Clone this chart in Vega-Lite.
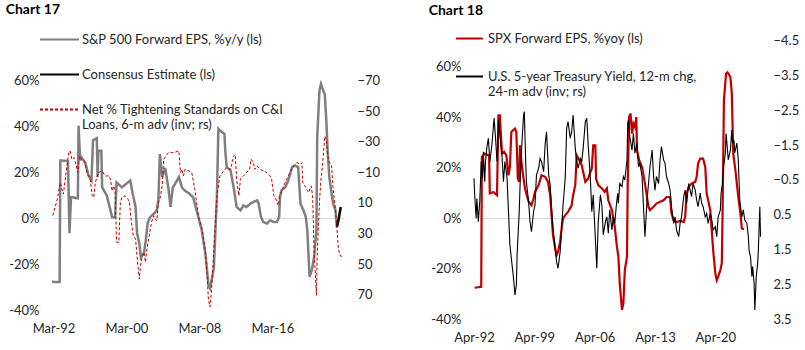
{
"$schema": "https://vega.github.io/schema/vega-lite/v6.json",
"padding": {"left": 5, "top": 3, "right": 2, "bottom": 0},
"spacing": 48,
"resolve": {"scale": {"color": "independent", "strokeDash": "independent"}, "legend": {"color": "independent", "strokeDash": "independent"}},
"config": {
  "font": "Lato",
  "view": {"stroke": null},
  "axis": {"labelFont": "Lato", "labelFontSize": 13, "labelColor": "#262626", "domain": false, "ticks": false, "grid": false, "title": null, "labelOverlap": false, "labelFlush": false, "labelBound": false},
  "legend": {"labelFont": "Lato", "labelFontSize": 13, "labelColor": "#262626", "labelLimit": 0}
},
"datasets": {
"c17l": [
{"s":"eps","d":"1992-01-01","v":-27.7},{"s":"eps","d":"1992-11-01","v":-27.8},{"s":"eps","d":"1992-12-01","v":25.2},{"s":"eps","d":"1993-02-01","v":25.2},{"s":"eps","d":"1993-10-01","v":25},{"s":"eps","d":"1993-11-01","v":9.3},{"s":"eps","d":"1993-12-01","v":-6.5},{"s":"eps","d":"1994-02-01","v":9.3},{"s":"eps","d":"1994-11-01","v":8.7},{"s":"eps","d":"1994-12-01","v":40.4},{"s":"eps","d":"1995-02-01","v":25.2},{"s":"eps","d":"1995-04-01","v":26.5},{"s":"eps","d":"1995-09-01","v":24},{"s":"eps","d":"1996-01-01","v":18.7},{"s":"eps","d":"1996-05-01","v":16.5},{"s":"eps","d":"1996-07-01","v":34},{"s":"eps","d":"1996-12-01","v":35},{"s":"eps","d":"1997-01-01","v":18},{"s":"eps","d":"1997-02-01","v":29.5},{"s":"eps","d":"1997-06-01","v":29.5},{"s":"eps","d":"1997-07-01","v":13.5},{"s":"eps","d":"1998-01-01","v":10},{"s":"eps","d":"1998-06-01","v":3.5},{"s":"eps","d":"1998-08-01","v":0.5},{"s":"eps","d":"1998-12-01","v":0.5},{"s":"eps","d":"1999-02-01","v":15.6},{"s":"eps","d":"1999-09-01","v":13.5},{"s":"eps","d":"2000-08-01","v":16.5},{"s":"eps","d":"2000-11-01","v":11},{"s":"eps","d":"2001-03-01","v":5},{"s":"eps","d":"2001-05-01","v":-6.5},{"s":"eps","d":"2001-08-01","v":-11},{"s":"eps","d":"2001-10-01","v":-17},{"s":"eps","d":"2002-02-01","v":-15},{"s":"eps","d":"2002-04-01","v":-11},{"s":"eps","d":"2002-07-01","v":-2},{"s":"eps","d":"2002-10-01","v":0.5},{"s":"eps","d":"2003-03-01","v":2},{"s":"eps","d":"2003-07-01","v":3.5},{"s":"eps","d":"2003-09-01","v":8},{"s":"eps","d":"2003-11-01","v":28},{"s":"eps","d":"2004-02-01","v":18},{"s":"eps","d":"2004-06-01","v":22},{"s":"eps","d":"2004-10-01","v":13.5},{"s":"eps","d":"2005-01-01","v":5},{"s":"eps","d":"2005-04-01","v":13.5},{"s":"eps","d":"2005-07-01","v":15},{"s":"eps","d":"2005-12-01","v":18},{"s":"eps","d":"2006-04-01","v":13.5},{"s":"eps","d":"2006-08-01","v":12},{"s":"eps","d":"2007-01-01","v":11},{"s":"eps","d":"2007-07-01","v":9},{"s":"eps","d":"2008-02-01","v":0},{"s":"eps","d":"2008-06-01","v":-5},{"s":"eps","d":"2008-11-01","v":-16},{"s":"eps","d":"2009-03-01","v":-29},{"s":"eps","d":"2009-05-01","v":-30.5},{"s":"eps","d":"2009-10-01","v":-22},{"s":"eps","d":"2010-02-01","v":10},{"s":"eps","d":"2010-04-01","v":39},{"s":"eps","d":"2010-06-01","v":38.3},{"s":"eps","d":"2010-12-01","v":36.8},{"s":"eps","d":"2011-01-01","v":29.5},{"s":"eps","d":"2011-03-01","v":22.3},{"s":"eps","d":"2011-08-01","v":20.9},{"s":"eps","d":"2011-12-01","v":13.6},{"s":"eps","d":"2012-04-01","v":4.9},{"s":"eps","d":"2012-09-01","v":3.5},{"s":"eps","d":"2013-01-01","v":5.6},{"s":"eps","d":"2013-05-01","v":4.9},{"s":"eps","d":"2013-10-01","v":6.4},{"s":"eps","d":"2014-02-01","v":7.1},{"s":"eps","d":"2014-07-01","v":7.8},{"s":"eps","d":"2014-09-01","v":6.4},{"s":"eps","d":"2014-12-01","v":0.6},{"s":"eps","d":"2015-03-01","v":-1.6},{"s":"eps","d":"2015-08-01","v":-2.3},{"s":"eps","d":"2015-12-01","v":-0.9},{"s":"eps","d":"2016-05-01","v":-1.6},{"s":"eps","d":"2016-09-01","v":-1.6},{"s":"eps","d":"2016-12-01","v":0.6},{"s":"eps","d":"2017-01-01","v":9.3},{"s":"eps","d":"2017-03-01","v":12.2},{"s":"eps","d":"2017-08-01","v":13.6},{"s":"eps","d":"2017-12-01","v":16.5},{"s":"eps","d":"2018-05-01","v":22.3},{"s":"eps","d":"2018-09-01","v":23},{"s":"eps","d":"2019-01-01","v":22.3},{"s":"eps","d":"2019-04-01","v":6.4},{"s":"eps","d":"2019-08-01","v":3.5},{"s":"eps","d":"2019-11-01","v":0.6},{"s":"eps","d":"2020-01-01","v":-5.2},{"s":"eps","d":"2020-04-01","v":-25.5},{"s":"eps","d":"2020-07-01","v":-22.6},{"s":"eps","d":"2020-10-01","v":-16.8},{"s":"eps","d":"2021-01-01","v":-5.2},{"s":"eps","d":"2021-02-01","v":35.4},{"s":"eps","d":"2021-05-01","v":55.7},{"s":"eps","d":"2021-07-01","v":58.6},{"s":"eps","d":"2021-10-01","v":55.7},{"s":"eps","d":"2021-12-01","v":54.2},{"s":"eps","d":"2022-02-01","v":42.6},{"s":"eps","d":"2022-04-01","v":28.1},{"s":"eps","d":"2022-06-01","v":18},{"s":"eps","d":"2022-09-01","v":10.7},{"s":"eps","d":"2022-11-01","v":6.4},{"s":"eps","d":"2023-02-01","v":3.5},{"s":"eps","d":"2023-04-01","v":-3.8},
{"s":"cons","d":"2023-04-01","v":-3.8},{"s":"cons","d":"2023-06-01","v":-0.9},{"s":"cons","d":"2023-09-01","v":4.9}
],
"c17r": [
{"s":"loans","d":"1992-02-01","v":18.3},{"s":"loans","d":"1992-08-01","v":7.5},{"s":"loans","d":"1992-12-01","v":-3.4},{"s":"loans","d":"1993-02-01","v":1},{"s":"loans","d":"1993-04-01","v":4.2},{"s":"loans","d":"1993-07-01","v":-7.7},{"s":"loans","d":"1993-11-01","v":-22.9},{"s":"loans","d":"1994-01-01","v":-24},{"s":"loans","d":"1994-03-01","v":-18.6},{"s":"loans","d":"1994-06-01","v":-19.7},{"s":"loans","d":"1994-08-01","v":-16.4},{"s":"loans","d":"1994-11-01","v":-9.9},{"s":"loans","d":"1995-01-01","v":-20.7},{"s":"loans","d":"1995-04-01","v":-18.6},{"s":"loans","d":"1995-08-01","v":-17.5},{"s":"loans","d":"1995-11-01","v":-9.9},{"s":"loans","d":"1996-01-01","v":-7.7},{"s":"loans","d":"1996-03-01","v":-6.7},{"s":"loans","d":"1996-06-01","v":5.3},{"s":"loans","d":"1996-08-01","v":6.4},{"s":"loans","d":"1996-10-01","v":-3.4},{"s":"loans","d":"1997-02-01","v":-9.9},{"s":"loans","d":"1997-07-01","v":-11},{"s":"loans","d":"1997-11-01","v":-7.7},{"s":"loans","d":"1998-04-01","v":-7.7},{"s":"loans","d":"1998-06-01","v":-5.6},{"s":"loans","d":"1998-08-01","v":2.1},{"s":"loans","d":"1998-10-01","v":-1.2},{"s":"loans","d":"1998-12-01","v":2.1},{"s":"loans","d":"1999-02-01","v":35.7},{"s":"loans","d":"1999-05-01","v":35.7},{"s":"loans","d":"1999-07-01","v":9.6},{"s":"loans","d":"1999-09-01","v":6.4},{"s":"loans","d":"2000-01-01","v":5.3},{"s":"loans","d":"2000-05-01","v":7.5},{"s":"loans","d":"2000-07-01","v":9.6},{"s":"loans","d":"2000-09-01","v":20.5},{"s":"loans","d":"2000-12-01","v":31.4},{"s":"loans","d":"2001-03-01","v":33.5},{"s":"loans","d":"2001-06-01","v":50.9},{"s":"loans","d":"2001-08-01","v":59.6},{"s":"loans","d":"2001-09-01","v":53},{"s":"loans","d":"2001-11-01","v":46.5},{"s":"loans","d":"2002-02-01","v":42.2},{"s":"loans","d":"2002-04-01","v":48.7},{"s":"loans","d":"2002-06-01","v":40},{"s":"loans","d":"2002-09-01","v":31.4},{"s":"loans","d":"2002-12-01","v":22.6},{"s":"loans","d":"2003-03-01","v":18.3},{"s":"loans","d":"2003-05-01","v":20.5},{"s":"loans","d":"2003-07-01","v":21.6},{"s":"loans","d":"2003-09-01","v":9.6},{"s":"loans","d":"2003-11-01","v":7.5},{"s":"loans","d":"2004-02-01","v":-1.2},{"s":"loans","d":"2004-04-01","v":-18.6},{"s":"loans","d":"2004-07-01","v":-20.7},{"s":"loans","d":"2004-10-01","v":-22.9},{"s":"loans","d":"2005-03-01","v":-22.9},{"s":"loans","d":"2005-07-01","v":-23.3},{"s":"loans","d":"2005-12-01","v":-24},{"s":"loans","d":"2006-02-01","v":-9.9},{"s":"loans","d":"2006-04-01","v":-12},{"s":"loans","d":"2006-06-01","v":-7.7},{"s":"loans","d":"2006-08-01","v":-12},{"s":"loans","d":"2007-01-01","v":-11},{"s":"loans","d":"2007-05-01","v":-9.9},{"s":"loans","d":"2007-09-01","v":1},{"s":"loans","d":"2008-02-01","v":19.4},{"s":"loans","d":"2008-06-01","v":25.9},{"s":"loans","d":"2008-11-01","v":41.1},{"s":"loans","d":"2009-03-01","v":73.7},{"s":"loans","d":"2009-05-01","v":78},{"s":"loans","d":"2009-07-01","v":67},{"s":"loans","d":"2009-09-01","v":50},{"s":"loans","d":"2009-11-01","v":31},{"s":"loans","d":"2010-02-01","v":5.3},{"s":"loans","d":"2010-06-01","v":-7.7},{"s":"loans","d":"2010-11-01","v":-11},{"s":"loans","d":"2011-03-01","v":-13.2},{"s":"loans","d":"2011-08-01","v":-12},{"s":"loans","d":"2011-12-01","v":-20.7},{"s":"loans","d":"2012-02-01","v":-21.8},{"s":"loans","d":"2012-04-01","v":-5.6},{"s":"loans","d":"2012-07-01","v":5.3},{"s":"loans","d":"2012-09-01","v":-5.6},{"s":"loans","d":"2013-01-01","v":-7.7},{"s":"loans","d":"2013-05-01","v":-9.9},{"s":"loans","d":"2013-09-01","v":-12},{"s":"loans","d":"2013-11-01","v":-18.6},{"s":"loans","d":"2014-02-01","v":-16.4},{"s":"loans","d":"2014-04-01","v":-12},{"s":"loans","d":"2014-07-01","v":-14.2},{"s":"loans","d":"2014-11-01","v":-12},{"s":"loans","d":"2015-03-01","v":-11},{"s":"loans","d":"2015-08-01","v":-9.9},{"s":"loans","d":"2015-12-01","v":-7.7},{"s":"loans","d":"2016-02-01","v":-5.6},{"s":"loans","d":"2016-05-01","v":5.3},{"s":"loans","d":"2016-07-01","v":6.4},{"s":"loans","d":"2016-09-01","v":9.6},{"s":"loans","d":"2016-11-01","v":11.8},{"s":"loans","d":"2017-01-01","v":5.3},{"s":"loans","d":"2017-06-01","v":-1.2},{"s":"loans","d":"2017-10-01","v":-5.6},{"s":"loans","d":"2018-02-01","v":-9.9},{"s":"loans","d":"2018-07-01","v":-14.2},{"s":"loans","d":"2018-11-01","v":-16.4},{"s":"loans","d":"2019-04-01","v":-15.3},{"s":"loans","d":"2019-06-01","v":-16.4},{"s":"loans","d":"2019-07-01","v":-3.4},{"s":"loans","d":"2019-10-01","v":-1.2},{"s":"loans","d":"2019-12-01","v":1},{"s":"loans","d":"2020-03-01","v":3.1},{"s":"loans","d":"2020-06-01","v":-1.2},{"s":"loans","d":"2020-08-01","v":5.3},{"s":"loans","d":"2020-10-01","v":42.2},{"s":"loans","d":"2021-01-01","v":70.4},{"s":"loans","d":"2021-02-01","v":44.4},{"s":"loans","d":"2021-05-01","v":9.6},{"s":"loans","d":"2021-07-01","v":-5.6},{"s":"loans","d":"2021-09-01","v":-14.2},{"s":"loans","d":"2021-12-01","v":-33.7},{"s":"loans","d":"2022-02-01","v":-31.6},{"s":"loans","d":"2022-04-01","v":-20.7},{"s":"loans","d":"2022-06-01","v":-16.4},{"s":"loans","d":"2022-09-01","v":-14.2},{"s":"loans","d":"2022-11-01","v":1},{"s":"loans","d":"2023-02-01","v":14},{"s":"loans","d":"2023-04-01","v":27},{"s":"loans","d":"2023-06-01","v":40},{"s":"loans","d":"2023-08-01","v":44.4},{"s":"loans","d":"2023-12-01","v":45.4}
],
"c18l": [
{"s":"spx","d":"1992-05-01","v":-27.6},{"s":"spx","d":"1993-02-01","v":-27.2},{"s":"spx","d":"1993-03-01","v":24.3},{"s":"spx","d":"1993-07-01","v":25.6},{"s":"spx","d":"1994-01-01","v":24.9},{"s":"spx","d":"1994-02-01","v":9.8},{"s":"spx","d":"1994-07-01","v":10.4},{"s":"spx","d":"1994-12-01","v":9.1},{"s":"spx","d":"1995-02-01","v":40.8},{"s":"spx","d":"1995-04-01","v":40.8},{"s":"spx","d":"1995-07-01","v":25.6},{"s":"spx","d":"1995-10-01","v":26.3},{"s":"spx","d":"1996-01-01","v":24.9},{"s":"spx","d":"1996-04-01","v":17},{"s":"spx","d":"1996-06-01","v":20.3},{"s":"spx","d":"1996-08-01","v":34.2},{"s":"spx","d":"1997-01-01","v":35.5},{"s":"spx","d":"1997-03-01","v":34.2},{"s":"spx","d":"1997-05-01","v":15.7},{"s":"spx","d":"1997-07-01","v":14.4},{"s":"spx","d":"1997-08-01","v":28.9},{"s":"spx","d":"1997-10-01","v":22.3},{"s":"spx","d":"1998-01-01","v":15.7},{"s":"spx","d":"1998-03-01","v":11.8},{"s":"spx","d":"1998-08-01","v":6.5},{"s":"spx","d":"1998-12-01","v":5.1},{"s":"spx","d":"1999-03-01","v":7.8},{"s":"spx","d":"1999-05-01","v":10.4},{"s":"spx","d":"1999-10-01","v":13.1},{"s":"spx","d":"2000-02-01","v":17},{"s":"spx","d":"2000-07-01","v":16.4},{"s":"spx","d":"2000-11-01","v":14.4},{"s":"spx","d":"2001-02-01","v":9.1},{"s":"spx","d":"2001-04-01","v":1.2},{"s":"spx","d":"2001-06-01","v":-6.7},{"s":"spx","d":"2001-09-01","v":-12},{"s":"spx","d":"2001-11-01","v":-14.7},{"s":"spx","d":"2002-01-01","v":-13.3},{"s":"spx","d":"2002-04-01","v":-9.4},{"s":"spx","d":"2002-06-01","v":-4.1},{"s":"spx","d":"2002-08-01","v":-0.1},{"s":"spx","d":"2002-11-01","v":1.2},{"s":"spx","d":"2003-03-01","v":2.5},{"s":"spx","d":"2003-08-01","v":5.1},{"s":"spx","d":"2003-10-01","v":9.1},{"s":"spx","d":"2004-01-01","v":13.1},{"s":"spx","d":"2004-03-01","v":24.9},{"s":"spx","d":"2004-08-01","v":22.3},{"s":"spx","d":"2004-10-01","v":21},{"s":"spx","d":"2004-12-01","v":18.3},{"s":"spx","d":"2005-03-01","v":14.4},{"s":"spx","d":"2005-07-01","v":15.7},{"s":"spx","d":"2005-10-01","v":18.3},{"s":"spx","d":"2005-12-01","v":19.7},{"s":"spx","d":"2006-02-01","v":28.9},{"s":"spx","d":"2006-05-01","v":28.9},{"s":"spx","d":"2006-06-01","v":15.7},{"s":"spx","d":"2006-09-01","v":13.1},{"s":"spx","d":"2007-02-01","v":11.8},{"s":"spx","d":"2007-06-01","v":10.4},{"s":"spx","d":"2007-09-01","v":11.8},{"s":"spx","d":"2007-11-01","v":7.1},{"s":"spx","d":"2008-04-01","v":3.2},{"s":"spx","d":"2008-08-01","v":-3.4},{"s":"spx","d":"2008-11-01","v":-11.4},{"s":"spx","d":"2009-01-01","v":-15.3},{"s":"spx","d":"2009-03-01","v":-25.9},{"s":"spx","d":"2009-06-01","v":-36.4},{"s":"spx","d":"2009-08-01","v":-33.8},{"s":"spx","d":"2009-10-01","v":-20.6},{"s":"spx","d":"2010-01-01","v":-15.3},{"s":"spx","d":"2010-02-01","v":13.7},{"s":"spx","d":"2010-04-01","v":40.1},{"s":"spx","d":"2010-06-01","v":41.5},{"s":"spx","d":"2010-08-01","v":33.5},{"s":"spx","d":"2010-10-01","v":37.5},{"s":"spx","d":"2010-12-01","v":36.2},{"s":"spx","d":"2011-02-01","v":40.1},{"s":"spx","d":"2011-03-01","v":26.9},{"s":"spx","d":"2011-06-01","v":23},{"s":"spx","d":"2011-10-01","v":20.3},{"s":"spx","d":"2012-02-01","v":13.7},{"s":"spx","d":"2012-07-01","v":4.5},{"s":"spx","d":"2012-09-01","v":3.2},{"s":"spx","d":"2013-02-01","v":4.5},{"s":"spx","d":"2013-06-01","v":5.8},{"s":"spx","d":"2013-11-01","v":6.5},{"s":"spx","d":"2014-04-01","v":7.1},{"s":"spx","d":"2014-08-01","v":8.4},{"s":"spx","d":"2015-01-01","v":8.4},{"s":"spx","d":"2015-03-01","v":1.9},{"s":"spx","d":"2015-06-01","v":-0.8},{"s":"spx","d":"2015-10-01","v":-1.5},{"s":"spx","d":"2016-03-01","v":-1.1},{"s":"spx","d":"2016-08-01","v":-1.5},{"s":"spx","d":"2016-10-01","v":0.5},{"s":"spx","d":"2016-12-01","v":9.8},{"s":"spx","d":"2017-03-01","v":12.4},{"s":"spx","d":"2017-07-01","v":13.7},{"s":"spx","d":"2017-12-01","v":14.4},{"s":"spx","d":"2018-02-01","v":16.4},{"s":"spx","d":"2018-04-01","v":21.7},{"s":"spx","d":"2018-07-01","v":23.6},{"s":"spx","d":"2018-11-01","v":23.6},{"s":"spx","d":"2019-02-01","v":20.3},{"s":"spx","d":"2019-04-01","v":9.8},{"s":"spx","d":"2019-09-01","v":3.2},{"s":"spx","d":"2019-11-01","v":-4.8},{"s":"spx","d":"2020-01-01","v":-12.7},{"s":"spx","d":"2020-04-01","v":-21.9},{"s":"spx","d":"2020-06-01","v":-24.6},{"s":"spx","d":"2020-08-01","v":-23.2},{"s":"spx","d":"2020-11-01","v":-20.6},{"s":"spx","d":"2021-01-01","v":-17.9},{"s":"spx","d":"2021-02-01","v":0.5},{"s":"spx","d":"2021-04-01","v":46.7},{"s":"spx","d":"2021-07-01","v":57.3},{"s":"spx","d":"2021-09-01","v":57.9},{"s":"spx","d":"2022-01-01","v":56},{"s":"spx","d":"2022-03-01","v":49.4},{"s":"spx","d":"2022-05-01","v":25.6},{"s":"spx","d":"2022-08-01","v":19},{"s":"spx","d":"2022-10-01","v":13.7},{"s":"spx","d":"2022-12-01","v":8.4},{"s":"spx","d":"2023-03-01","v":1.9},{"s":"spx","d":"2023-05-01","v":-4.1},{"s":"spx","d":"2023-08-01","v":-4.4}
],
"c18r": [
{"s":"ust","d":"1992-04-01","v":-0.55},{"s":"ust","d":"1992-05-01","v":-0.07},{"s":"ust","d":"1992-07-01","v":0.6},{"s":"ust","d":"1992-08-01","v":0.03},{"s":"ust","d":"1992-10-01","v":0.7},{"s":"ust","d":"1992-12-01","v":0.12},{"s":"ust","d":"1993-02-01","v":-1.03},{"s":"ust","d":"1993-04-01","v":-0.55},{"s":"ust","d":"1993-05-01","v":-1.31},{"s":"ust","d":"1993-07-01","v":-0.45},{"s":"ust","d":"1993-08-01","v":-1.03},{"s":"ust","d":"1993-10-01","v":-1.46},{"s":"ust","d":"1993-12-01","v":-1.7},{"s":"ust","d":"1994-02-01","v":-1.03},{"s":"ust","d":"1994-05-01","v":-1.51},{"s":"ust","d":"1994-07-01","v":-2.03},{"s":"ust","d":"1994-08-01","v":-2.28},{"s":"ust","d":"1994-10-01","v":-1.7},{"s":"ust","d":"1994-12-01","v":-1.03},{"s":"ust","d":"1995-01-01","v":-1.51},{"s":"ust","d":"1995-02-01","v":-2.23},{"s":"ust","d":"1995-04-01","v":-1.8},{"s":"ust","d":"1995-07-01","v":-1.22},{"s":"ust","d":"1995-09-01","v":-0.45},{"s":"ust","d":"1995-11-01","v":-1.03},{"s":"ust","d":"1996-02-01","v":-0.55},{"s":"ust","d":"1996-04-01","v":0.41},{"s":"ust","d":"1996-06-01","v":1.37},{"s":"ust","d":"1996-09-01","v":1.95},{"s":"ust","d":"1996-11-01","v":2.33},{"s":"ust","d":"1997-01-01","v":2.81},{"s":"ust","d":"1997-03-01","v":2.52},{"s":"ust","d":"1997-04-01","v":1.66},{"s":"ust","d":"1997-07-01","v":0.41},{"s":"ust","d":"1997-08-01","v":-0.26},{"s":"ust","d":"1997-10-01","v":-1.31},{"s":"ust","d":"1998-01-01","v":-2.37},{"s":"ust","d":"1998-02-01","v":-2.47},{"s":"ust","d":"1998-04-01","v":-1.03},{"s":"ust","d":"1998-05-01","v":-0.45},{"s":"ust","d":"1998-08-01","v":0.12},{"s":"ust","d":"1998-10-01","v":0.7},{"s":"ust","d":"1998-12-01","v":0.99},{"s":"ust","d":"1999-03-01","v":0.41},{"s":"ust","d":"1999-05-01","v":0.22},{"s":"ust","d":"1999-07-01","v":-0.64},{"s":"ust","d":"1999-10-01","v":-0.84},{"s":"ust","d":"1999-12-01","v":-1.12},{"s":"ust","d":"2000-02-01","v":-1.03},{"s":"ust","d":"2000-05-01","v":-0.74},{"s":"ust","d":"2000-07-01","v":-1.51},{"s":"ust","d":"2000-09-01","v":-1.89},{"s":"ust","d":"2000-11-01","v":-1.03},{"s":"ust","d":"2000-12-01","v":-0.64},{"s":"ust","d":"2001-02-01","v":-0.36},{"s":"ust","d":"2001-04-01","v":0.31},{"s":"ust","d":"2001-06-01","v":0.89},{"s":"ust","d":"2001-09-01","v":1.47},{"s":"ust","d":"2001-11-01","v":1.85},{"s":"ust","d":"2002-01-01","v":2.04},{"s":"ust","d":"2002-04-01","v":1.56},{"s":"ust","d":"2002-06-01","v":0.89},{"s":"ust","d":"2002-08-01","v":0.22},{"s":"ust","d":"2002-11-01","v":-0.55},{"s":"ust","d":"2003-01-01","v":-1.99},{"s":"ust","d":"2003-03-01","v":-2.18},{"s":"ust","d":"2003-06-01","v":-1.7},{"s":"ust","d":"2003-08-01","v":-1.89},{"s":"ust","d":"2003-10-01","v":-2.37},{"s":"ust","d":"2004-01-01","v":-1.41},{"s":"ust","d":"2004-03-01","v":-1.03},{"s":"ust","d":"2004-05-01","v":-0.84},{"s":"ust","d":"2004-08-01","v":-1.12},{"s":"ust","d":"2004-10-01","v":-1.03},{"s":"ust","d":"2004-12-01","v":-1.41},{"s":"ust","d":"2005-03-01","v":-2.18},{"s":"ust","d":"2005-05-01","v":-2.28},{"s":"ust","d":"2005-07-01","v":-1.51},{"s":"ust","d":"2005-10-01","v":-0.55},{"s":"ust","d":"2005-12-01","v":0.41},{"s":"ust","d":"2006-02-01","v":-0.07},{"s":"ust","d":"2006-05-01","v":1.18},{"s":"ust","d":"2006-07-01","v":2.04},{"s":"ust","d":"2006-09-01","v":0.7},{"s":"ust","d":"2006-12-01","v":-0.07},{"s":"ust","d":"2007-02-01","v":0.22},{"s":"ust","d":"2007-04-01","v":1.08},{"s":"ust","d":"2007-07-01","v":0.7},{"s":"ust","d":"2007-09-01","v":0.56},{"s":"ust","d":"2007-11-01","v":1.03},{"s":"ust","d":"2008-01-01","v":0.36},{"s":"ust","d":"2008-04-01","v":0.94},{"s":"ust","d":"2008-06-01","v":0.56},{"s":"ust","d":"2008-08-01","v":0.75},{"s":"ust","d":"2008-10-01","v":0.27},{"s":"ust","d":"2008-12-01","v":-0.12},{"s":"ust","d":"2009-01-01","v":0.17},{"s":"ust","d":"2009-03-01","v":-0.4},{"s":"ust","d":"2009-06-01","v":-0.31},{"s":"ust","d":"2009-08-01","v":-0.6},{"s":"ust","d":"2009-10-01","v":-0.5},{"s":"ust","d":"2010-01-01","v":-1.08},{"s":"ust","d":"2010-02-01","v":-2.13},{"s":"ust","d":"2010-03-01","v":-2.23},{"s":"ust","d":"2010-05-01","v":-1.75},{"s":"ust","d":"2010-08-01","v":-1.36},{"s":"ust","d":"2010-10-01","v":-1.84},{"s":"ust","d":"2010-12-01","v":-1.27},{"s":"ust","d":"2011-03-01","v":-1.56},{"s":"ust","d":"2011-05-01","v":-0.88},{"s":"ust","d":"2011-07-01","v":-0.98},{"s":"ust","d":"2011-10-01","v":-0.6},{"s":"ust","d":"2011-12-01","v":0.27},{"s":"ust","d":"2012-02-01","v":1.13},{"s":"ust","d":"2012-05-01","v":0.08},{"s":"ust","d":"2012-07-01","v":-0.4},{"s":"ust","d":"2012-09-01","v":-0.88},{"s":"ust","d":"2012-12-01","v":-1.36},{"s":"ust","d":"2013-02-01","v":-0.6},{"s":"ust","d":"2013-04-01","v":-0.21},{"s":"ust","d":"2013-06-01","v":-0.6},{"s":"ust","d":"2013-09-01","v":-0.4},{"s":"ust","d":"2013-11-01","v":-1.08},{"s":"ust","d":"2014-01-01","v":-1.46},{"s":"ust","d":"2014-04-01","v":-1.08},{"s":"ust","d":"2014-06-01","v":-0.98},{"s":"ust","d":"2014-08-01","v":-0.6},{"s":"ust","d":"2014-11-01","v":-0.4},{"s":"ust","d":"2015-01-01","v":-0.21},{"s":"ust","d":"2015-03-01","v":0.27},{"s":"ust","d":"2015-06-01","v":0.75},{"s":"ust","d":"2015-08-01","v":0.56},{"s":"ust","d":"2015-10-01","v":0.94},{"s":"ust","d":"2016-01-01","v":1.13},{"s":"ust","d":"2016-03-01","v":0.75},{"s":"ust","d":"2016-05-01","v":0.56},{"s":"ust","d":"2016-08-01","v":-0.02},{"s":"ust","d":"2016-10-01","v":-0.21},{"s":"ust","d":"2016-12-01","v":0.17},{"s":"ust","d":"2017-03-01","v":-0.4},{"s":"ust","d":"2017-05-01","v":-0.21},{"s":"ust","d":"2017-07-01","v":-0.02},{"s":"ust","d":"2017-09-01","v":-0.4},{"s":"ust","d":"2017-12-01","v":-0.21},{"s":"ust","d":"2018-02-01","v":0.08},{"s":"ust","d":"2018-04-01","v":0.27},{"s":"ust","d":"2018-07-01","v":-0.12},{"s":"ust","d":"2018-09-01","v":0.17},{"s":"ust","d":"2018-11-01","v":0.27},{"s":"ust","d":"2019-02-01","v":0.56},{"s":"ust","d":"2019-04-01","v":0.46},{"s":"ust","d":"2019-06-01","v":0.75},{"s":"ust","d":"2019-09-01","v":0.46},{"s":"ust","d":"2019-11-01","v":0.65},{"s":"ust","d":"2020-01-01","v":0.94},{"s":"ust","d":"2020-04-01","v":0.84},{"s":"ust","d":"2020-06-01","v":1.13},{"s":"ust","d":"2020-08-01","v":0.56},{"s":"ust","d":"2020-11-01","v":0.36},{"s":"ust","d":"2020-12-01","v":-0.12},{"s":"ust","d":"2021-02-01","v":-0.4},{"s":"ust","d":"2021-03-01","v":-0.79},{"s":"ust","d":"2021-06-01","v":-1.27},{"s":"ust","d":"2021-07-01","v":-1.84},{"s":"ust","d":"2021-09-01","v":-1.36},{"s":"ust","d":"2021-10-01","v":-1.08},{"s":"ust","d":"2022-01-01","v":-1.36},{"s":"ust","d":"2022-03-01","v":-1.94},{"s":"ust","d":"2022-04-01","v":-1.56},{"s":"ust","d":"2022-06-01","v":-1.65},{"s":"ust","d":"2022-07-01","v":-1.27},{"s":"ust","d":"2022-10-01","v":-1.56},{"s":"ust","d":"2022-12-01","v":-1.08},{"s":"ust","d":"2023-02-01","v":0.08},{"s":"ust","d":"2023-05-01","v":0.56},{"s":"ust","d":"2023-07-01","v":0.36},{"s":"ust","d":"2023-09-01","v":0.65},{"s":"ust","d":"2023-12-01","v":0.75},{"s":"ust","d":"2024-02-01","v":1.13},{"s":"ust","d":"2024-03-01","v":1.51},{"s":"ust","d":"2024-05-01","v":1.71},{"s":"ust","d":"2024-07-01","v":2.28},{"s":"ust","d":"2024-08-01","v":1.99},{"s":"ust","d":"2024-10-01","v":2.47},{"s":"ust","d":"2024-11-01","v":3.24},{"s":"ust","d":"2025-01-01","v":2.28},{"s":"ust","d":"2025-03-01","v":1.9},{"s":"ust","d":"2025-04-01","v":1.51},{"s":"ust","d":"2025-05-01","v":0.84},{"s":"ust","d":"2025-06-01","v":0.27},{"s":"ust","d":"2025-07-01","v":1.13}
]
},
"hconcat": [
{
  "title": {"text": "Chart 17", "anchor": "start", "frame": "bounds", "fontSize": 14, "fontWeight": "bold", "font": "Lato", "color": "#000000", "offset": 2, "dx": -3},
  "width": 291, "height": 290,
  "layer": [
    {
      "data": {"name": "c17l"},
      "mark": {"type": "line", "strokeWidth": 2.5},
      "encoding": {
        "x": {"field": "d", "type": "temporal", "scale": {"domain": [{"year": 1992, "month": 1, "date": 1}, {"year": 2023, "month": 12, "date": 1}]},
              "axis": {"values": [{"year": 1992, "month": 3, "date": 1}, {"year": 2000, "month": 3, "date": 1}, {"year": 2008, "month": 3, "date": 1}, {"year": 2016, "month": 3, "date": 1}], "format": "%b-%y", "labelPadding": 12}},
        "y": {"field": "v", "type": "quantitative", "scale": {"domain": [-40, 86.5], "nice": false, "zero": false},
              "axis": {"values": [-40, -20, 0, 20, 40, 60], "labelExpr": "datum.value + '%'", "labelPadding": 13, "grid": true, "gridColor": "#d9d9d9", "gridOpacity": {"condition": {"test": "datum.value === 0", "value": 1}, "value": 0}}},
        "color": {"field": "s", "type": "nominal", "scale": {"domain": ["eps", "cons", "loans"], "range": ["#7f7f7f", "#000000", "#c00000"]},
                  "legend": {"title": null, "orient": "none", "legendX": -13, "legendY": -1, "symbolType": "stroke", "symbolSize": 1521, "symbolStrokeWidth": 2, "labelOffset": 2, "rowPadding": 7,
                             "labelExpr": "datum.value == 'eps' ? 'S&P 500 Forward  EPS, %y/y (ls)' : datum.value == 'cons' ? 'Consensus Estimate (ls)' : ['Net % Tightening Standards on C&I', 'Loans, 6-m adv (inv; rs)']"}},
        "strokeDash": {"field": "s", "type": "nominal", "scale": {"domain": ["eps", "cons", "loans"], "range": [[1, 0], [1, 0], [3, 2]]},
                  "legend": {"title": null, "orient": "none", "legendX": -13, "legendY": -1, "symbolType": "stroke", "symbolSize": 1521, "symbolStrokeWidth": 2, "labelOffset": 2, "rowPadding": 7,
                             "labelExpr": "datum.value == 'eps' ? 'S&P 500 Forward  EPS, %y/y (ls)' : datum.value == 'cons' ? 'Consensus Estimate (ls)' : ['Net % Tightening Standards on C&I', 'Loans, 6-m adv (inv; rs)']"}}
      }
    },
    {
      "data": {"name": "c17r"},
      "mark": {"type": "line", "strokeWidth": 1},
      "encoding": {
        "x": {"field": "d", "type": "temporal"},
        "y": {"field": "v", "type": "quantitative", "scale": {"domain": [-109.7, 80], "reverse": true, "nice": false, "zero": false},
              "axis": {"orient": "right", "values": [-70, -50, -30, -10, 10, 30, 50, 70], "labelPadding": 14}},
        "color": {"field": "s", "type": "nominal"},
        "strokeDash": {"field": "s", "type": "nominal"}
      }
    }
  ],
  "resolve": {"scale": {"y": "independent"}}
},
{
  "title": {"text": "Chart 18", "anchor": "start", "frame": "bounds", "fontSize": 14, "fontWeight": "bold", "font": "Lato", "color": "#000000", "offset": 2, "dx": -2},
  "width": 288, "height": 299,
  "layer": [
    {
      "data": {"name": "c18l"},
      "mark": {"type": "line", "strokeWidth": 2.2},
      "encoding": {
        "x": {"field": "d", "type": "temporal", "scale": {"domain": [{"year": 1992, "month": 4, "date": 1}, {"year": 2025, "month": 9, "date": 1}]},
              "axis": {"values": [{"year": 1992, "month": 4, "date": 1}, {"year": 1999, "month": 4, "date": 1}, {"year": 2006, "month": 4, "date": 1}, {"year": 2013, "month": 4, "date": 1}, {"year": 2020, "month": 4, "date": 1}], "format": "%b-%y", "labelPadding": 12}},
        "y": {"field": "v", "type": "quantitative", "scale": {"domain": [-40, 78.6], "nice": false, "zero": false},
              "axis": {"values": [-40, -20, 0, 20, 40, 60], "labelExpr": "datum.value + '%'", "labelPadding": 13, "grid": true, "gridColor": "#d9d9d9", "gridOpacity": {"condition": {"test": "datum.value === 0", "value": 1}, "value": 0}}},
        "color": {"field": "s", "type": "nominal", "scale": {"domain": ["spx", "ust"], "range": ["#c00000", "#000000"]},
                  "legend": {"title": null, "orient": "none", "legendX": -19, "legendY": 4, "symbolType": "stroke", "symbolSize": 729, "symbolStrokeWidth": 2, "labelOffset": 4, "rowPadding": 16,
                             "labelExpr": "datum.value == 'spx' ? 'SPX Forward EPS, %yoy (ls)' : ['U.S. 5-year Treasury Yield, 12-m chg,', '24-m adv (inv; rs)']"}}
      }
    },
    {
      "data": {"name": "c18r"},
      "mark": {"type": "line", "strokeWidth": 1.1},
      "encoding": {
        "x": {"field": "d", "type": "temporal"},
        "y": {"field": "v", "type": "quantitative", "scale": {"domain": [-5.104, 3.5], "reverse": true, "nice": false, "zero": false},
              "axis": {"orient": "right", "values": [-4.5, -3.5, -2.5, -1.5, -0.5, 0.5, 1.5, 2.5, 3.5], "format": ".1f", "labelPadding": 11}},
        "color": {"field": "s", "type": "nominal"}
      }
    }
  ],
  "resolve": {"scale": {"y": "independent"}}
}
]
}
